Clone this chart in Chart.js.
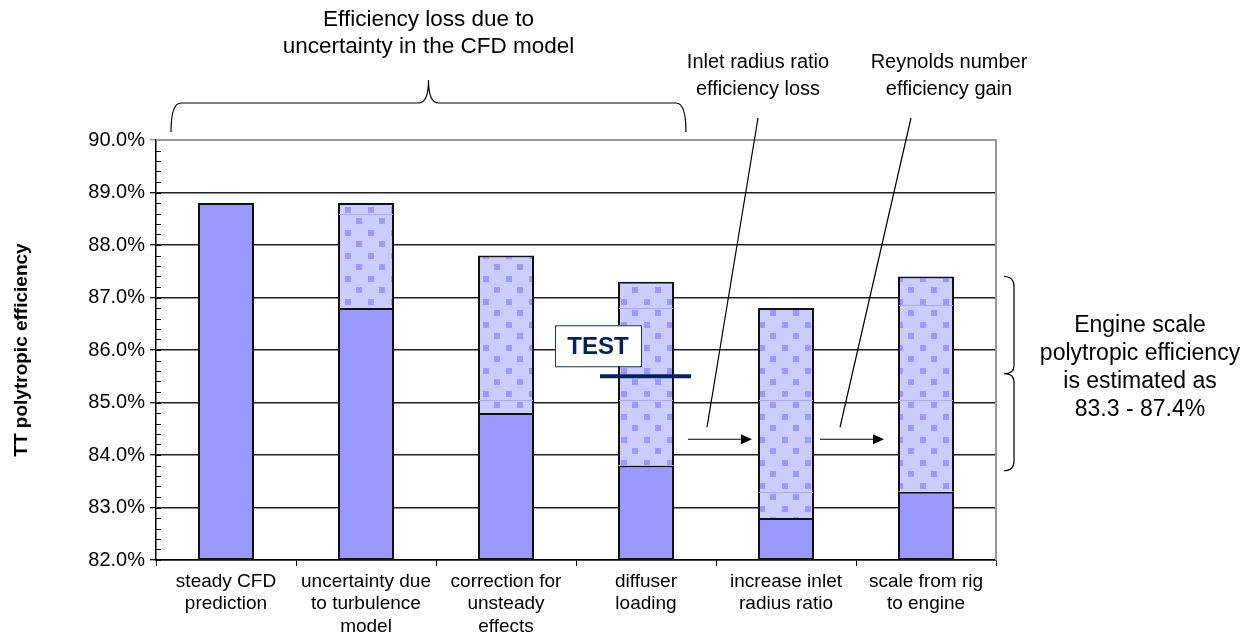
<!DOCTYPE html>
<html>
<head>
<meta charset="utf-8">
<script src="https://cdn.jsdelivr.net/npm/chart.js@4.4.0/dist/chart.umd.min.js"></script>
<style>
  html, body { margin: 0; padding: 0; background: #fff; }
  #wrap { width: 1245px; height: 640px; }
</style>
</head>
<body>
<div id="wrap"><canvas id="efficiency-chart" width="1245" height="640"></canvas></div>
<script>
// stage labels along the x axis
const categories = [
    ['steady CFD', 'prediction'],
    ['uncertainty due', 'to turbulence', 'model'],
    ['correction for', 'unsteady', 'effects'],
    ['diffuser', 'loading'],
    ['increase inlet', 'radius ratio'],
    ['scale from rig', 'to engine']
];
// lower bound (solid part) and upper bound (dotted part) of each stage, in %
const lowEstimate = [88.8, 86.8, 84.8, 83.8, 82.8, 83.3];
const highEstimate = [88.8, 88.8, 87.8, 87.3, 86.8, 87.4];
// faint joins between the stacked uncertainty pieces
const bandSplits = [[], [88.6], [85.05], [85.05, 86.8], [83.3, 85.05], [85.05, 86.85]];
const testValue = 85.5;
const yTicks = [82, 83, 84, 85, 86, 87, 88, 89, 90];

const FONT = "'Liberation Sans', Arial, sans-serif";

document.addEventListener('DOMContentLoaded', () => {
    const canvas = document.getElementById('efficiency-chart');
    const ctx = canvas.getContext('2d');

    function dotPattern() {
        const tile = document.createElement('canvas');
        tile.width = 23;
        tile.height = 23;
        const t = tile.getContext('2d');
        t.fillStyle = '#ccccff';
        t.fillRect(0, 0, 23, 23);
        t.fillStyle = '#9999ff';
        t.fillRect(0, 0, 6, 6);
        t.fillRect(11, 11, 6, 6);
        return ctx.createPattern(tile, 'repeat');
    }

    // small inside ticks every 0.2 % on the value axis, plus the grey frame
    const minorTicks = {
        id: 'minorTicks',
        afterDraw(chart) {
            const y = chart.scales.y;
            const x0 = chart.chartArea.left;
            const c = chart.ctx;
            c.save();
            c.strokeStyle = '#000';
            c.lineWidth = 1;
            for (let k = 0; k <= (yTicks[yTicks.length - 1] - yTicks[0]) * 5; k++) {
                const v = yTicks[0] + k * 0.2;
                const py = Math.round(y.getPixelForValue(v)) + 0.5;
                c.beginPath();
                c.moveTo(x0, py);
                c.lineTo(x0 + 5, py);
                c.stroke();
            }
            c.strokeStyle = '#999';
            c.lineWidth = 2;
            c.beginPath();
            c.moveTo(chart.chartArea.left, chart.chartArea.top);
            c.lineTo(chart.chartArea.right, chart.chartArea.top);
            c.lineTo(chart.chartArea.right, chart.chartArea.bottom);
            c.stroke();
            c.restore();
        }
    };

    // joins inside the dotted bars
    const splitLines = {
        id: 'splitLines',
        afterDatasetsDraw(chart) {
            const meta = chart.getDatasetMeta(0);
            const y = chart.scales.y;
            const c = chart.ctx;
            c.save();
            c.strokeStyle = '#aaaaf0';
            c.lineWidth = 1;
            bandSplits.forEach((list, i) => {
                const bar = meta.data[i];
                if (!bar) return;
                list.forEach(v => {
                    const py = Math.round(y.getPixelForValue(v)) + 0.5;
                    c.beginPath();
                    c.moveTo(bar.x - bar.width / 2 + 1, py);
                    c.lineTo(bar.x + bar.width / 2 - 1, py);
                    c.stroke();
                });
            });
            c.restore();
        }
    };

    function arrow(c, x1, y1, x2, y2) {
        c.beginPath();
        c.moveTo(x1, y1);
        c.lineTo(x2 - 9, y2);
        c.stroke();
        c.beginPath();
        c.moveTo(x2, y2);
        c.lineTo(x2 - 11, y2 - 5);
        c.lineTo(x2 - 11, y2 + 5);
        c.closePath();
        c.fill();
    }

    function centredLines(c, lines, cx, y0, step) {
        lines.forEach((s, k) => c.fillText(s, cx, y0 + k * step));
    }

    const annotations = {
        id: 'annotations',
        afterDraw(chart) {
            const c = chart.ctx;
            const xs = chart.scales.x;
            const ys = chart.scales.y;
            const area = chart.chartArea;
            c.save();
            c.fillStyle = '#000';
            c.strokeStyle = '#000';
            c.textAlign = 'center';
            c.textBaseline = 'middle';

            // brace over the CFD-model stages
            const bL = area.left + 15;
            const bR = xs.getPixelForValue(3) + 40;
            const bM = (bL + bR) / 2;
            c.lineWidth = 1.2;
            c.beginPath();
            c.moveTo(bL, 132);
            c.quadraticCurveTo(bL, 103, bL + 10, 103);
            c.lineTo(bM - 10, 103);
            c.quadraticCurveTo(bM, 103, bM, 80);
            c.quadraticCurveTo(bM, 103, bM + 10, 103);
            c.lineTo(bR - 10, 103);
            c.quadraticCurveTo(bR, 103, bR, 132);
            c.stroke();

            c.font = '22.5px ' + FONT;
            centredLines(c, ['Efficiency loss due to', 'uncertainty in the CFD model'], bM, 20, 27);

            c.font = '20px ' + FONT;
            const g1 = (xs.getPixelForValue(3) + xs.getPixelForValue(4)) / 2;
            const g2 = (xs.getPixelForValue(4) + xs.getPixelForValue(5)) / 2;
            const t1 = g1 + 42;
            const t2 = g2 + 93;
            centredLines(c, ['Inlet radius ratio', 'efficiency loss'], t1, 62, 27);
            centredLines(c, ['Reynolds number', 'efficiency gain'], t2, 62, 27);

            // step arrows and leader lines
            const ay = ys.getPixelForValue(84.3);
            c.lineWidth = 1.2;
            arrow(c, g1 - 28, ay, g1 + 36, ay);
            arrow(c, g2 - 36, ay, g2 + 28, ay);
            c.beginPath();
            c.moveTo(t1, 118);
            c.lineTo(g1 - 9, ay - 12);
            c.moveTo(g2 + 55, 118);
            c.lineTo(g2 - 16, ay - 12);
            c.stroke();

            // test measurement
            const ty = ys.getPixelForValue(testValue);
            const tx = xs.getPixelForValue(3);
            c.strokeStyle = '#002060';
            c.lineWidth = 4;
            c.beginPath();
            c.moveTo(tx - 46, ty);
            c.lineTo(tx + 45, ty);
            c.stroke();
            c.fillStyle = '#fff';
            c.strokeStyle = '#1f2f5f';
            c.lineWidth = 1;
            c.fillRect(tx - 91, ty - 51, 86, 41);
            c.strokeRect(tx - 90.5, ty - 50.5, 86, 41);
            c.fillStyle = '#002060';
            c.font = 'bold 24px ' + FONT;
            c.fillText('TEST', tx - 48, ty - 29);

            // brace over the engine-scale range
            const rx = area.right + 18;
            const rTop = ys.getPixelForValue(highEstimate[5]);
            const rBot = ys.getPixelForValue(83.7);
            const rMid = (rTop + rBot) / 2;
            c.strokeStyle = '#000';
            c.fillStyle = '#000';
            c.lineWidth = 1.2;
            c.beginPath();
            c.moveTo(rx - 10, rTop);
            c.quadraticCurveTo(rx, rTop, rx, rTop + 10);
            c.lineTo(rx, rMid - 8);
            c.quadraticCurveTo(rx, rMid, rx - 10, rMid);
            c.quadraticCurveTo(rx, rMid, rx, rMid + 8);
            c.lineTo(rx, rBot - 10);
            c.quadraticCurveTo(rx, rBot, rx - 10, rBot);
            c.stroke();

            c.font = '23px ' + FONT;
            const range = lowEstimate[5].toFixed(1) + ' - ' + highEstimate[5].toFixed(1) + '%';
            centredLines(c, ['Engine scale', 'polytropic efficiency', 'is estimated as', range], 1140, rMid - 48, 28);
            c.restore();
        }
    };

    const chartData = {
        labels: categories,
        datasets: [
            {
                label: 'uncertainty band',
                data: lowEstimate.map((v, i) => highEstimate[i] > v ? [v, highEstimate[i]] : null),
                backgroundColor: dotPattern(),
                borderColor: '#111',
                borderWidth: 2,
                borderSkipped: 'start',
                order: 2
            },
            {
                label: 'lower estimate',
                data: lowEstimate.map(v => [yTicks[0], v]),
                backgroundColor: '#9999ff',
                borderColor: '#111',
                borderWidth: 2,
                borderSkipped: false,
                order: 1
            }
        ]
    };

    new Chart(canvas, {
        type: 'bar',
        data: chartData,
        options: {
            responsive: false,
            animation: false,
            categoryPercentage: 1,
            barPercentage: 0.4,
            layout: { padding: { top: 140, right: 249, left: 0, bottom: 0 } },
            plugins: {
                legend: { display: false },
                tooltip: { enabled: false }
            },
            scales: {
                x: {
                    stacked: true,
                    offset: true,
                    grid: { offset: true, drawOnChartArea: false, tickLength: 6, color: '#000', lineWidth: 1 },
                    border: { color: '#000', width: 1.5 },
                    ticks: { color: '#000', font: { family: FONT, size: 19 }, padding: 4, maxRotation: 0, autoSkip: false },
                    afterFit: s => { s.height = 80; }
                },
                y: {
                    stacked: false,
                    min: yTicks[0],
                    max: yTicks[yTicks.length - 1],
                    ticks: {
                        stepSize: 1,
                        color: '#000',
                        font: { family: FONT, size: 20 },
                        padding: 5,
                        callback: v => v.toFixed(1) + '%'
                    },
                    grid: {
                        color: c => c.tick && c.tick.value === yTicks[yTicks.length - 1] ? '#999' : '#222',
                        lineWidth: 1.4,
                        tickLength: 6
                    },
                    border: { color: '#000', width: 1.5 },
                    title: {
                        display: true,
                        text: 'TT polytropic efficiency',
                        color: '#000',
                        font: { family: FONT, size: 19, weight: 'bold' },
                        padding: { top: 10, bottom: 0 }
                    },
                    afterFit: s => { s.width = 156; }
                }
            }
        },
        plugins: [splitLines, minorTicks, annotations]
    });
});
</script>
</body>
</html>
